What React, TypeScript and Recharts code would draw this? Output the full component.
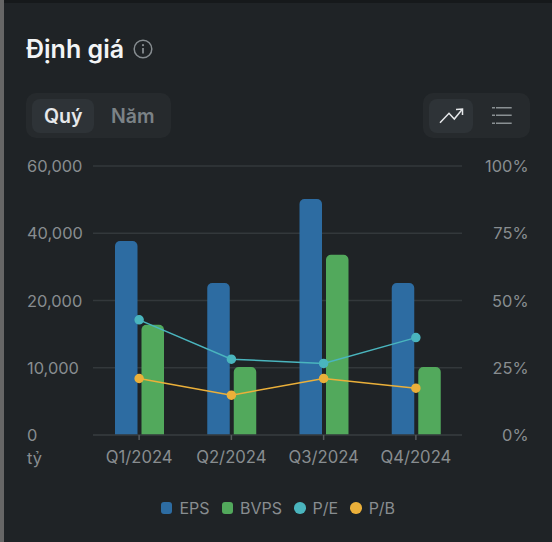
import { Bar, CartesianGrid, ComposedChart, Line, XAxis, YAxis } from "recharts"

const quarters = ["Q1/2024", "Q2/2024", "Q3/2024", "Q4/2024"]
const eps = [37700, 25200, 50200, 25200]
const bvps = [16400, 10100, 33600, 10100]
const pe = [42.8, 28.2, 26.6, 36.2]
const pb = [21, 14.8, 21, 17.4]
const leftTicks = [0, 10000, 20000, 40000, 60000]
const rightTicks = [0, 25, 50, 75, 100]

const legendItems = [
  { name: "EPS", color: "#2d6ca2", round: false },
  { name: "BVPS", color: "#52a95c", round: false },
  { name: "P/E", color: "#4ab5be", round: true },
  { name: "P/B", color: "#ebb03a", round: true },
]

const data = quarters.map((quarter, i) => ({
  quarter,
  eps: eps[i],
  bvps: bvps[i],
  pe: pe[i],
  pb: pb[i],
}))

const FONT = "Inter, sans-serif"
const MUTED = "#888d90"
const GRID = "#33383b"

// the left axis is not linear: its ticks sit at equal distances
function stepScale(stops: number[]) {
  let range = [0, 1]
  const scale: any = (value: number) => {
    const last = stops.length - 1
    let i = 0
    while (i < last - 1 && value > stops[i + 1]) i++
    const pos = (i + (value - stops[i]) / (stops[i + 1] - stops[i])) / last
    return range[0] + pos * (range[1] - range[0])
  }
  scale.domain = (d?: number[]) => (d ? scale : [stops[0], stops[stops.length - 1]])
  scale.range = (r?: number[]) => {
    if (!r) return range
    range = r
    return scale
  }
  scale.ticks = () => stops
  scale.copy = () => stepScale(stops).range(range)
  return scale
}

function LeftTick({ y, payload }: any) {
  return (
    <text x={27} y={y} dy={6} textAnchor="start" fill={MUTED} fontSize={16.4} fontFamily={FONT}>
      {payload.value.toLocaleString("en-US")}
    </text>
  )
}

function RightTick({ y, payload }: any) {
  return (
    <text x={528.5} y={y} dy={6} textAnchor="end" fill={MUTED} fontSize={16.4} fontFamily={FONT}>
      {payload.value}%
    </text>
  )
}

function Toggle({ left, width, children }: any) {
  return (
    <div style={{ position: "absolute", left, top: 93, width, height: 45, borderRadius: 10, background: "#262a2d" }}>
      {children}
    </div>
  )
}

function Header() {
  return (
    <>
      <div style={{ position: "absolute", left: 26, top: 35, fontSize: 25, lineHeight: "28px", fontWeight: 600, color: "#f2f4f5" }}>
        Định giá
      </div>
      <svg style={{ position: "absolute", left: 133, top: 39 }} width={20} height={20} viewBox="0 0 20 20" fill="none">
        <circle cx={10} cy={10} r={8.8} stroke="#868c90" strokeWidth={1.5} />
        <circle cx={10} cy={6.2} r={1.1} fill="#868c90" />
        <path d="M10 9v5.6" stroke="#868c90" strokeWidth={1.8} />
      </svg>
      <Toggle left={26} width={145}>
        <div style={{ position: "absolute", left: 6, top: 6, width: 62, height: 34, borderRadius: 8, background: "#2e3337" }} />
        <div style={{ position: "absolute", left: 18, top: 10, fontSize: 19.5, lineHeight: "26px", fontWeight: 600, color: "#e6e8ea" }}>Quý</div>
        <div style={{ position: "absolute", left: 85, top: 10, fontSize: 19.5, lineHeight: "26px", fontWeight: 600, color: "#7b8286" }}>Năm</div>
      </Toggle>
      <Toggle left={423} width={107}>
        <div style={{ position: "absolute", left: 6, top: 6, width: 44, height: 34, borderRadius: 8, background: "#2e3337" }} />
        <svg style={{ position: "absolute", left: 0, top: 0 }} width={107} height={45} fill="none">
          <path d="M17 29.7l9-9.4 5.3 5.7 7.4-9" stroke="#e6e8ea" strokeWidth={1.5} />
          <path d="M33 16.5l6.5-.5v6" stroke="#e6e8ea" strokeWidth={1.5} />
          <path d="M73 14.7h15.7M73 22.3h15.7M73 30.3h15.7" stroke="#8a9093" strokeWidth={1.5} />
          <path d="M69 14.7h3M69 22.3h3M69 30.3h3" stroke="#8a9093" strokeWidth={1.5} />
        </svg>
      </Toggle>
    </>
  )
}

function ChartLegend() {
  return (
    <div style={{ position: "absolute", left: 0, top: 498, width: 552, paddingLeft: 4, boxSizing: "border-box", display: "flex", justifyContent: "center", gap: 12, fontSize: 16, lineHeight: "20px", color: MUTED }}>
      {legendItems.map((item) => (
        <div key={item.name} style={{ display: "flex", alignItems: "center", gap: 7 }}>
          <span style={{ width: 11.5, height: 11.5, borderRadius: item.round ? "50%" : 3, background: item.color }} />
          {item.name}
        </div>
      ))}
    </div>
  )
}

export default function App() {
  return (
    <div style={{ position: "absolute", left: 0, top: 0, width: 552, height: 542, overflow: "hidden", background: "#1f2326", fontFamily: FONT }}>
      <div style={{ position: "absolute", left: 0, top: 0, width: 552, height: 3, background: "#16191b" }} />
      <div style={{ position: "absolute", left: 0, top: 0, width: 3.5, height: 542, background: "#666666" }} />
      <Header />
      <ComposedChart
        style={{ position: "absolute", left: 0, top: 0 }}
        width={552}
        height={542}
        data={data}
        barSize={22.5}
        barGap={4}
        margin={{ top: 166, right: 0, bottom: 77, left: 0 }}
      >
        <CartesianGrid yAxisId="left" vertical={false} stroke={GRID} strokeWidth={1.5} />
        <XAxis
          dataKey="quarter"
          height={30}
          interval={0}
          stroke={GRID}
          strokeWidth={1.5}
          tickSize={5}
          tickLine={{ stroke: "#55595c" }}
          tickMargin={11}
          tick={{ fill: MUTED, fontSize: 16.7, fontFamily: FONT }}
        />
        <YAxis
          yAxisId="left"
          width={93}
          type="number"
          scale={stepScale(leftTicks)}
          domain={[0, 60000]}
          ticks={leftTicks}
          interval={0}
          axisLine={false}
          tickLine={false}
          tick={LeftTick}
        />
        <YAxis
          yAxisId="right"
          orientation="right"
          width={90}
          domain={[0, 100]}
          ticks={rightTicks}
          interval={0}
          axisLine={false}
          tickLine={false}
          tick={RightTick}
        />
        <Bar yAxisId="left" dataKey="eps" fill="#2d6ca2" radius={[5, 5, 0, 0]} isAnimationActive={false} />
        <Bar yAxisId="left" dataKey="bvps" fill="#52a95c" radius={[5, 5, 0, 0]} isAnimationActive={false} />
        <Line yAxisId="right" dataKey="pe" stroke="#4ab5be" strokeWidth={1.5} dot={{ r: 4, fill: "#4ab5be", stroke: "#4ab5be" }} activeDot={false} isAnimationActive={false} />
        <Line yAxisId="right" dataKey="pb" stroke="#ebb03a" strokeWidth={1.5} dot={{ r: 4, fill: "#ebb03a", stroke: "#ebb03a" }} activeDot={false} isAnimationActive={false} />
      </ComposedChart>
      <div style={{ position: "absolute", left: 27, top: 448, fontSize: 16.4, lineHeight: "20px", color: MUTED }}>tỷ</div>
      <ChartLegend />
    </div>
  )
}
